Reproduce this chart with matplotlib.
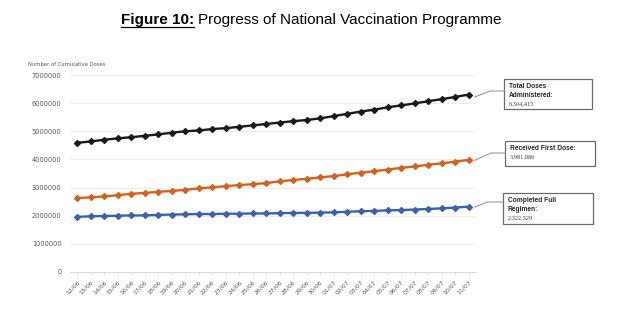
import matplotlib
matplotlib.use("Agg")
import matplotlib.pyplot as plt
from matplotlib.patches import Rectangle
from matplotlib.lines import Line2D

dates = ["12/06", "13/06", "14/06", "15/06", "16/06", "17/06", "18/06", "19/06", "20/06",
         "21/06", "22/06", "23/06", "24/06", "25/06", "26/06", "27/06", "28/06", "29/06",
         "30/06", "01/07", "02/07", "03/07", "04/07", "05/07", "06/07", "07/07", "08/07",
         "09/07", "10/07", "11/07"]

total_doses = [4590000, 4640000, 4700000, 4750000, 4790000, 4840000, 4890000, 4950000,
               5000000, 5030000, 5080000, 5110000, 5160000, 5210000, 5260000, 5310000,
               5360000, 5400000, 5460000, 5540000, 5620000, 5700000, 5770000, 5850000,
               5920000, 5990000, 6070000, 6140000, 6220000, 6304415]
first_dose = [2630000, 2650000, 2690000, 2730000, 2780000, 2810000, 2850000, 2880000,
              2920000, 2970000, 3010000, 3050000, 3090000, 3120000, 3160000, 3220000,
              3270000, 3310000, 3360000, 3410000, 3470000, 3530000, 3580000, 3640000,
              3700000, 3750000, 3810000, 3860000, 3920000, 3981886]
full_regimen = [1960000, 1980000, 1990000, 2000000, 2010000, 2010000, 2030000, 2040000,
                2050000, 2060000, 2060000, 2070000, 2070000, 2080000, 2080000, 2090000,
                2100000, 2100000, 2110000, 2120000, 2140000, 2160000, 2170000, 2190000,
                2200000, 2220000, 2240000, 2260000, 2290000, 2322529]

y_ticks = [0, 1000000, 2000000, 3000000, 4000000, 5000000, 6000000, 7000000]

labels = [("Total Doses\nAdministered:", "6,304,415"),
          ("Received First Dose:", "3,981,886"),
          ("Completed Full\nRegimen:", "2,322,529")]

colors = ["#1a1a1a", "#D2631F", "#3D62AC"]

W, H = 619, 326
fig = plt.figure(figsize=(W / 100, H / 100), dpi=100)
ax = fig.add_axes([70 / W, 1 - 272 / H, (476 - 70) / W, (272 - 75) / H])

x = list(range(len(dates)))
for series, c in zip([total_doses, first_dose, full_regimen], colors):
    ax.plot(x, series, color=c, lw=1.7, marker="D", ms=3.0, mec=c, mfc=c, zorder=3)

ax.set_ylim(0, 7000000)
ax.set_xlim(-0.55, len(dates) - 0.45)
ax.set_yticks(y_ticks)
ax.set_yticklabels([str(v) for v in y_ticks])
ax.set_xticks(x)
ax.set_xticklabels(dates, rotation=45, ha="right", rotation_mode="anchor")
ax.tick_params(axis="y", length=0, labelsize=4.8, colors="#595959", pad=6)
ax.tick_params(axis="x", length=2.5, width=0.5, color="#d9d9d9", labelsize=4.4,
               labelcolor="#595959", pad=3)
ax.grid(axis="y", color="#ececec", lw=0.7)
ax.set_axisbelow(True)
for s in ["top", "right", "left"]:
    ax.spines[s].set_visible(False)
ax.spines["bottom"].set_color("#d9d9d9")
ax.spines["bottom"].set_linewidth(0.7)

fig.text(28 / W, 1 - 64 / H, "Number of Cumulative Doses", fontsize=3.8,
         color="#595959", va="center", ha="left")

# Title
t1 = fig.text(121 / W, 1 - 24 / H, "Figure 10:", fontsize=11, fontweight="bold",
              family="Liberation Sans", va="baseline", ha="left")
fig.canvas.draw()
r = fig.canvas.get_renderer()
bb = t1.get_window_extent(r)
fig.text((bb.x1 + 4) / W, 1 - 24 / H, "Progress of National Vaccination Programme",
         fontsize=11, family="Liberation Sans", va="baseline", ha="left")
fig.add_artist(Line2D([bb.x0 / W, bb.x1 / W], [(H - 26.5) / H, (H - 26.5) / H],
                      color="black", lw=0.9))

# Callout boxes: (left, top, right, bottom, connector y, elbow x, start dy) in pixels
boxes = [(504, 79, 592, 109, 91, 490, 2.5),
         (505, 141, 595, 166, 153, 491, 0.5),
         (503, 193, 593, 224, 202, 487, 0.5)]
last = len(dates) - 1
for (lab, val), series, (l, t, rr, b, cy, ex, dy) in zip(labels, [total_doses, first_dose, full_regimen], boxes):
    fig.add_artist(Rectangle((l / W, 1 - b / H), (rr - l) / W, (b - t) / H,
                             transform=fig.transFigure, fill=True, fc="white",
                             ec="#6b6b6b", lw=0.9, zorder=2))
    nl = lab.count("\n") + 1
    fig.text((l + 5) / W, 1 - (t + 3.5) / H, lab, fontsize=4.8, fontweight="bold",
             family="Liberation Sans", va="top", ha="left", color="#262626",
             linespacing=1.45, zorder=3)
    fig.text((l + 5) / W, 1 - (t + 4.5 + 9.0 * nl) / H, val, fontsize=4.6,
             va="top", ha="left", color="#404040", family="Liberation Serif", zorder=3)
    px, py = ax.transData.transform((last, series[-1]))
    sx, sy = px + 6, py - dy
    fig.add_artist(Line2D([sx / W, ex / W, l / W],
                          [sy / H, (H - cy) / H, (H - cy) / H],
                          color="#8c8c8c", lw=0.7))

fig.savefig("out.png", dpi=100)
